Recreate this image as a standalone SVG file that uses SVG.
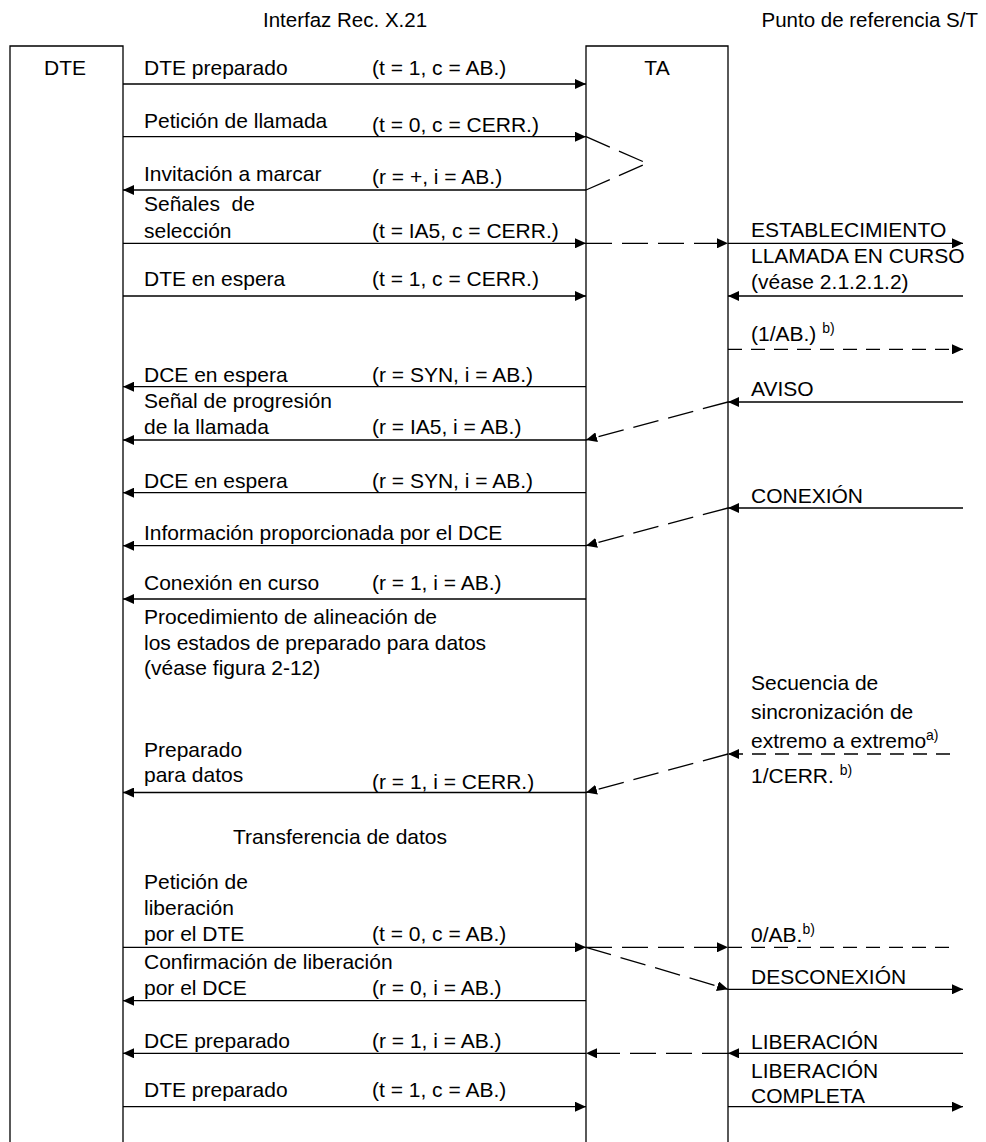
<svg xmlns="http://www.w3.org/2000/svg" width="986" height="1142" viewBox="0 0 986 1142">
  <style>
    text { font-family: "Liberation Sans", Arial, sans-serif; font-size: 21px; fill: #000; }
    .hdr { font-size: 20.5px; }
    .mid { text-anchor: middle; }
    .end { text-anchor: end; }
    .sup { font-size: 14px; }
    .ln { stroke: #000; stroke-width: 1.3; fill: none; }
    .dl { stroke-dasharray: 26 10; }
    .ds { stroke-dasharray: 14 9; }
    .arr { marker-end: url(#ah); }
  </style>
  <defs>
    <marker id="ah" markerUnits="userSpaceOnUse" markerWidth="12" markerHeight="10" viewBox="0 0 12 10" refX="11" refY="5" orient="auto">
      <path d="M0,0 L11,5 L0,10 z" fill="#000"/>
    </marker>
  </defs>

  <rect width="986" height="1142" fill="#fff"/>

  <!-- interface headings -->
  <g id="headings">
    <text class="hdr" x="263" y="27">Interfaz Rec. X.21</text>
    <text class="hdr end" x="978" y="27">Punto de referencia S/T</text>
  </g>

  <!-- DTE lifeline -->
  <g id="dte">
    <path class="ln" d="M10,1142 V46 H123 V1142"/>
    <text class="mid" x="65" y="75">DTE</text>
  </g>

  <!-- TA lifeline -->
  <g id="ta">
    <path class="ln" d="M586,1142 V46 H728 V1142"/>
    <text class="mid" x="657" y="75">TA</text>
  </g>

  <!-- message arrows -->
  <g id="connectors">
    <path class="ln arr" d="M123,84 H586"/>
    <path class="ln arr" d="M123,136.7 H586"/>
    <path class="ln dl" d="M586,136.7 L647,163.3"/>
    <path class="ln dl" d="M586,190 L647,163.3"/>
    <path class="ln arr" d="M586,190 H123"/>

    <path class="ln arr" d="M123,243.3 H586"/>
    <path class="ln dl arr" d="M586,243.3 H728"/>
    <path class="ln arr" d="M728,243.3 H963"/>

    <path class="ln arr" d="M123,296 H586"/>
    <path class="ln arr" d="M963,296 H728"/>
    <path class="ln ds arr" d="M728,349.3 H963"/>

    <path class="ln arr" d="M586,386.7 H123"/>
    <path class="ln arr" d="M963,402 H728"/>
    <path class="ln dl arr" d="M728,402 L586,440"/>
    <path class="ln arr" d="M586,440 H123"/>

    <path class="ln arr" d="M586,492.7 H123"/>
    <path class="ln arr" d="M963,508 H728"/>
    <path class="ln dl arr" d="M728,508 L586,545.7"/>
    <path class="ln arr" d="M586,545.7 H123"/>

    <path class="ln arr" d="M586,599 H123"/>

    <path class="ln ds arr" d="M950,754 H728"/>
    <path class="ln dl arr" d="M728,754 L586,792.5"/>
    <path class="ln arr" d="M586,792.5 H123"/>

    <path class="ln arr" d="M123,947.3 H586"/>
    <path class="ln dl arr" d="M586,947.3 H728"/>
    <path class="ln ds" d="M728,947.3 H950"/>
    <path class="ln dl arr" d="M586,947.3 L728,989.3"/>
    <path class="ln arr" d="M728,989.3 H963"/>
    <path class="ln arr" d="M586,1000.7 H123"/>

    <path class="ln arr" d="M963,1053.3 H728"/>
    <path class="ln dl arr" d="M728,1053.3 H586"/>
    <path class="ln arr" d="M586,1053.3 H123"/>

    <path class="ln arr" d="M123,1106.7 H586"/>
    <path class="ln arr" d="M728,1106.7 H963"/>
  </g>

  <!-- Rec. X.21 interface labels -->
  <g id="x21-labels">
    <text x="144" y="75">DTE preparado</text>
    <text x="372" y="75">(t = 1, c = AB.)</text>
    <text x="144" y="128">Petición de llamada</text>
    <text x="372" y="132">(t = 0, c = CERR.)</text>
    <text x="144" y="181">Invitación a marcar</text>
    <text x="372" y="184">(r = +, i = AB.)</text>
    <text x="144" y="211" xml:space="preserve">Señales  de</text>
    <text x="144" y="237.5">selección</text>
    <text x="372" y="238">(t = IA5, c = CERR.)</text>
    <text x="144" y="286">DTE en espera</text>
    <text x="372" y="286">(t = 1, c = CERR.)</text>
    <text x="144" y="381.5">DCE en espera</text>
    <text x="372" y="381.5">(r = SYN, i = AB.)</text>
    <text x="144" y="407.5">Señal de progresión</text>
    <text x="144" y="433.5">de la llamada</text>
    <text x="372" y="433.5">(r = IA5, i = AB.)</text>
    <text x="144" y="487.5">DCE en espera</text>
    <text x="372" y="487.5">(r = SYN, i = AB.)</text>
    <text x="144" y="540">Información proporcionada por el DCE</text>
    <text x="144" y="589.5">Conexión en curso</text>
    <text x="372" y="589.5">(r = 1, i = AB.)</text>
    <text x="144" y="623.5">Procedimiento de alineación de</text>
    <text x="144" y="649.5">los estados de preparado para datos</text>
    <text x="144" y="675">(véase figura 2-12)</text>
    <text x="144" y="756.5">Preparado</text>
    <text x="144" y="781.5">para datos</text>
    <text x="372" y="789">(r = 1, i = CERR.)</text>
    <text x="233" y="843.5">Transferencia de datos</text>
    <text x="144" y="888.5">Petición de</text>
    <text x="144" y="914.5">liberación</text>
    <text x="144" y="940.5">por el DTE</text>
    <text x="372" y="941">(t = 0, c = AB.)</text>
    <text x="144" y="968.5">Confirmación de liberación</text>
    <text x="144" y="994.5">por el DCE</text>
    <text x="372" y="994.5">(r = 0, i = AB.)</text>
    <text x="144" y="1048">DCE preparado</text>
    <text x="372" y="1048">(r = 1, i = AB.)</text>
    <text x="144" y="1097">DTE preparado</text>
    <text x="372" y="1097">(t = 1, c = AB.)</text>
  </g>

  <!-- S/T reference point labels -->
  <g id="st-labels">
    <text x="751" y="237">ESTABLECIMIENTO</text>
    <text x="751" y="263">LLAMADA EN CURSO</text>
    <text x="751" y="288.5">(véase 2.1.2.1.2)</text>
    <text x="751" y="340.5">(1/AB.) <tspan class="sup" dy="-8">b)</tspan></text>
    <text x="751" y="396">AVISO</text>
    <text x="751" y="502.5">CONEXIÓN</text>
    <text x="751" y="690">Secuencia de</text>
    <text x="751" y="718.5">sincronización de</text>
    <text x="751" y="748">extremo a extremo<tspan class="sup" dy="-8">a)</tspan></text>
    <text x="751" y="782.5">1/CERR. <tspan class="sup" dy="-8">b)</tspan></text>
    <text x="751" y="941.5">0/AB.<tspan class="sup" dy="-8">b)</tspan></text>
    <text x="751" y="983.5">DESCONEXIÓN</text>
    <text x="751" y="1048.5">LIBERACIÓN</text>
    <text x="751" y="1078">LIBERACIÓN</text>
    <text x="751" y="1102.5">COMPLETA</text>
  </g>
</svg>
